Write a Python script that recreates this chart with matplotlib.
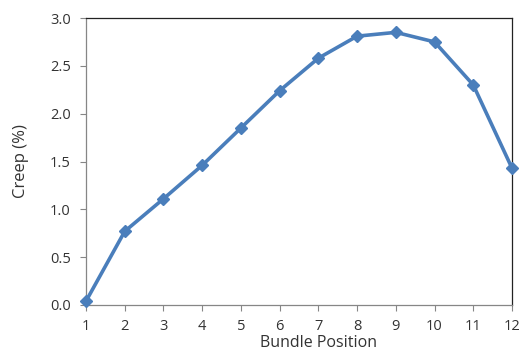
import matplotlib
matplotlib.use("Agg")
import matplotlib.pyplot as plt

positions = [1, 2, 3, 4, 5, 6, 7, 8, 9, 10, 11, 12]
creep = [0.04, 0.77, 1.11, 1.46, 1.85, 2.24, 2.58, 2.81, 2.85, 2.75, 2.30, 1.43]
yticks = [0.0, 0.5, 1.0, 1.5, 2.0, 2.5, 3.0]

plt.rcParams['font.family'] = ['Open Sans', 'DejaVu Sans']

fig = plt.figure(figsize=(5.19, 3.53), dpi=100)
ax = fig.add_axes([86/519, 48/353, 426/519, 287/353])
ax.plot(positions, creep, color='#4A7EBB', lw=2.6, marker='D', ms=6.5,
        markerfacecolor='#4A7EBB', markeredgecolor='#4A7EBB', clip_on=False, zorder=3)
ax.set_xlim(1, 12)
ax.set_ylim(0, 3.0)
ax.set_xticks(positions)
ax.set_yticks(yticks)
ax.set_yticklabels([f"{v:.1f}" for v in yticks])
ax.tick_params(axis='both', direction='out', length=4, width=0.8, color='#868686',
               labelsize=10.5, labelcolor='#333333')
ax.tick_params(axis='x', pad=6)
ax.tick_params(axis='y', pad=7)
for s in ['left', 'bottom']:
    ax.spines[s].set_color('#868686')
    ax.spines[s].set_linewidth(0.9)
for s in ['top', 'right']:
    ax.spines[s].set_color('#222222')
    ax.spines[s].set_linewidth(0.9)
ax.set_xlabel('Bundle Position', fontsize=11.5, color='#333333')
ax.set_ylabel('Creep (%)', fontsize=12, color='#333333')
ax.xaxis.set_label_coords(233/426, -30/287)
ax.yaxis.set_label_coords(-57/426, 0.5)
fig.savefig('out.png', dpi=100)
